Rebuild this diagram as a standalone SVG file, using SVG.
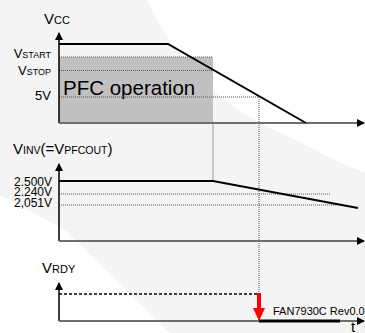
<svg xmlns="http://www.w3.org/2000/svg" width="365" height="333" viewBox="0 0 365 333">
<defs>
<style>
text{font-family:"Liberation Sans",Arial,sans-serif;fill:#000}
.lbl{font-size:13px}
.big{font-size:15px}
.val{font-size:12px}
.axis{stroke:#000;stroke-width:1.5;fill:none}
.haxis{stroke:#6e6e6e;stroke-width:2;fill:none}
.trace{stroke:#000;stroke-width:2;fill:none}
.dot{stroke:#555;stroke-width:1;stroke-dasharray:1,1;fill:none}
</style>
<marker id="ah" viewBox="0 0 8 8" refX="7" refY="4" markerWidth="8" markerHeight="8" markerUnits="userSpaceOnUse" orient="auto">
<path d="M0,0 L8,4 L0,8 Z" fill="#000"/>
</marker>
</defs>
<rect width="365" height="333" fill="#f4f4f4"/>
<path d="M147,0 C175,60 220,105 270,128 S340,165 365,172 L365,0 Z" fill="#fff"/>
<path d="M0,195 L65,230 L170,333 L0,333 Z" fill="#fff"/>

<g id="vcc-panel">
<rect x="59" y="57" width="154" height="66" fill="#c0c0c0"/>
<text x="63" y="95" style="font-size:20.5px">PFC operation</text>
<text x="44" y="24" class="big">V<tspan style="font-size:11px">CC</tspan></text>
<text x="51" y="57.5" text-anchor="end" style="font-size:13px">V<tspan style="font-size:9px">START</tspan></text>
<text x="51" y="74.5" text-anchor="end" style="font-size:13px">V<tspan style="font-size:9px">STOP</tspan></text>
<text x="51" y="100" text-anchor="end" class="lbl">5V</text>
</g>

<g id="inv-panel">
<text x="13" y="154" class="big">V<tspan style="font-size:10.5px">INV</tspan>(=V<tspan style="font-size:10.5px">PFCOUT</tspan>)</text>
<text x="52" y="185.5" text-anchor="end" class="val">2.500V</text>
<text x="52" y="196" text-anchor="end" class="val">2.240V</text>
<text x="52" y="206.5" text-anchor="end" class="val">2,051V</text>
</g>

<g id="rdy-panel">
<text x="42" y="273" class="big">V<tspan style="font-size:11px">RDY</tspan></text>
<text x="273" y="315" style="font-size:11px">FAN7930C Rev0.0</text>
<text x="351" y="332" class="big">t</text>
</g>

<g id="connectors">
<line x1="59" y1="57" x2="213" y2="57" class="dot"/>
<line x1="59" y1="70.5" x2="213" y2="70.5" class="dot"/>
<line x1="59" y1="97" x2="259" y2="97" class="dot"/>
<line x1="213" y1="123" x2="213" y2="181" stroke="#999" stroke-width="1"/>
<line x1="259" y1="97" x2="259" y2="321" class="dot"/>
<line x1="59" y1="194" x2="330" y2="194" class="dot"/>
<line x1="59" y1="205" x2="340" y2="205" class="dot"/>
<line x1="59" y1="123" x2="59" y2="33" class="axis" marker-end="url(#ah)"/>
<line x1="59" y1="123" x2="364" y2="123" class="haxis" marker-end="url(#ah)"/>
<line x1="59" y1="241" x2="59" y2="164" class="axis" marker-end="url(#ah)"/>
<line x1="59" y1="241" x2="364" y2="241" class="haxis" marker-end="url(#ah)"/>
<line x1="59" y1="321" x2="59" y2="283" class="axis" marker-end="url(#ah)"/>
<line x1="59" y1="321" x2="364" y2="321" class="haxis" marker-end="url(#ah)"/>
<polyline points="59,44 168,44 306,123" class="trace"/>
<polyline points="59,181 213,181 358,208" class="trace"/>
<line x1="59" y1="294" x2="259" y2="294" stroke="#000" stroke-width="1.5" stroke-dasharray="3,2"/>
<line x1="259" y1="321" x2="340" y2="321" stroke="#000" stroke-width="3"/>
<line x1="259" y1="293" x2="259" y2="309" stroke="#f00" stroke-width="4"/>
<path d="M253,308 L265,308 L259,321 Z" fill="#f00"/>
</g>
</svg>
